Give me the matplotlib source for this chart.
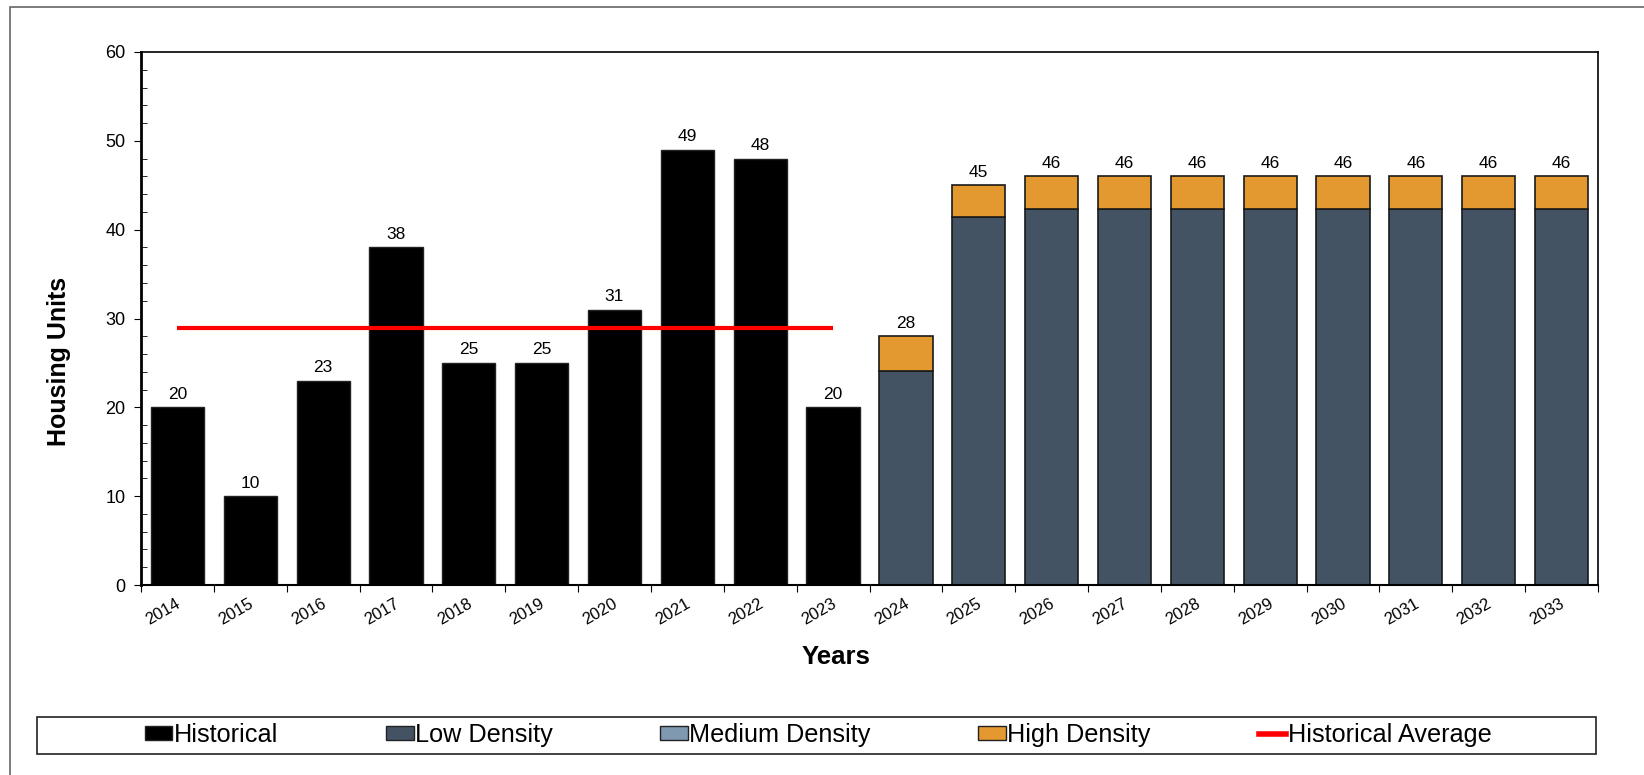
import matplotlib.pyplot as plt
import numpy as np
from matplotlib.patches import Rectangle, Patch
from matplotlib.lines import Line2D
from matplotlib.ticker import MultipleLocator
from matplotlib.transforms import ScaledTranslation

plt.rcParams['font.family'] = ['Liberation Sans', 'DejaVu Sans']

years = [str(y) for y in range(2014, 2034)]
historical = [20, 10, 23, 38, 25, 25, 31, 49, 48, 20]
low_density = [24.1, 41.4, 42.3, 42.3, 42.3, 42.3, 42.3, 42.3, 42.3, 42.3]
medium_density = [0, 0, 0, 0, 0, 0, 0, 0, 0, 0]
high_density = [3.9, 3.6, 3.7, 3.7, 3.7, 3.7, 3.7, 3.7, 3.7, 3.7]
projected_totals = [28, 45, 46, 46, 46, 46, 46, 46, 46, 46]

c_hist = '#000000'
c_low = '#435363'
c_med = '#7f9ab0'
c_high = '#e39830'

fig = plt.figure(figsize=(16.44, 7.75), dpi=100)
ax = fig.add_axes([141 / 1644, 1 - 585 / 775, (1598 - 141) / 1644, (585 - 52) / 775])

x = np.arange(len(years))
n_hist = len(historical)
xh = x[:n_hist]
xp = x[n_hist:]
w = 0.73

ax.bar(xh, historical, width=w, color=c_hist, edgecolor='#222222', linewidth=1)
low = np.array(low_density)
med = np.array(medium_density)
high = np.array(high_density)
ax.bar(xp, low, width=w, color=c_low, edgecolor='#1a1a1a', linewidth=1.2)
ax.bar(xp, med, width=w, bottom=low, color=c_med, edgecolor='#1a1a1a', linewidth=0)
ax.bar(xp, high, width=w, bottom=low + med, color=c_high, edgecolor='#1a1a1a', linewidth=1.2)

for xi, v in zip(xh, historical):
    ax.annotate(f'{v}', (xi, v), xytext=(0, 4), textcoords='offset points',
                ha='center', va='bottom', fontsize=12.5)
for xi, v in zip(xp, projected_totals):
    ax.annotate(f'{v}', (xi, v), xytext=(0, 4), textcoords='offset points',
                ha='center', va='bottom', fontsize=12.5)

# historical average across the historical years
avg = np.mean(historical)
ax.plot([xh[0], xh[-1]], [avg, avg], color='#ff0000', linewidth=3, solid_capstyle='butt')

ax.set_xlim(-0.5, len(years) - 0.5)
ax.set_ylim(0, 60)
ax.yaxis.set_major_locator(MultipleLocator(10))
ax.yaxis.set_minor_locator(MultipleLocator(2))
ax.tick_params(axis='y', which='major', direction='out', length=5, labelsize=13, pad=6)
ax.tick_params(axis='y', which='minor', direction='in', length=4)
ax.set_xticks(np.arange(len(years) + 1) - 0.5, minor=False)
ax.set_xticklabels([])
ax.set_xticks(x, minor=True)
ax.set_xticklabels(years, minor=True, fontsize=12)
ax.tick_params(axis='x', which='major', direction='out', length=5)
ax.tick_params(axis='x', which='minor', length=0, pad=8)

ax.spines['left'].set_linewidth(2)
ax.spines['bottom'].set_linewidth(1.5)
ax.spines['top'].set_linewidth(1.2)
ax.spines['right'].set_linewidth(1.2)

ax.set_ylabel('Housing Units', fontsize=18, fontweight='bold')
ax.set_xlabel('Years', fontsize=18.5, fontweight='bold')
ax.yaxis.set_label_coords(-0.048, 0.42)
ax.xaxis.set_label_coords(0.477, -0.112)

shift = ScaledTranslation(-0.02, 0, fig.dpi_scale_trans)
for lbl in ax.get_xticklabels(minor=True):
    lbl.set_rotation(30)
    lbl.set_ha('right')
    lbl.set_va('top')
    lbl.set_rotation_mode('anchor')
    lbl.set_transform(lbl.get_transform() + shift)

# outer chart frame
fig.patches.append(Rectangle((10 / 1644, -0.1), 1.2, 1 - 7 / 775 + 0.1,
                             transform=fig.transFigure, fill=False,
                             edgecolor='#666666', linewidth=1.2))

# legend box
fig.patches.append(Rectangle((37 / 1644, 1 - 754 / 775), (1596 - 37) / 1644, 37 / 775,
                             transform=fig.transFigure, fill=False,
                             edgecolor='#222222', linewidth=1.2))
handles = [
    Patch(facecolor=c_hist, edgecolor='#222222'),
    Patch(facecolor=c_low, edgecolor='#222222'),
    Patch(facecolor=c_med, edgecolor='#222222'),
    Patch(facecolor=c_high, edgecolor='#222222'),
    Line2D([0], [0], color='#ff0000', linewidth=4),
]
labels = ['Historical', 'Low Density', 'Medium Density', 'High Density', 'Historical Average']
fig.legend(handles, labels, loc='center', bbox_to_anchor=(818 / 1644, 1 - 735 / 775),
           ncol=5, frameon=False, fontsize=18.2, handlelength=1.1, handleheight=0.5,
           handletextpad=0.05, columnspacing=4.26)

fig.savefig('out.png', dpi=100)
